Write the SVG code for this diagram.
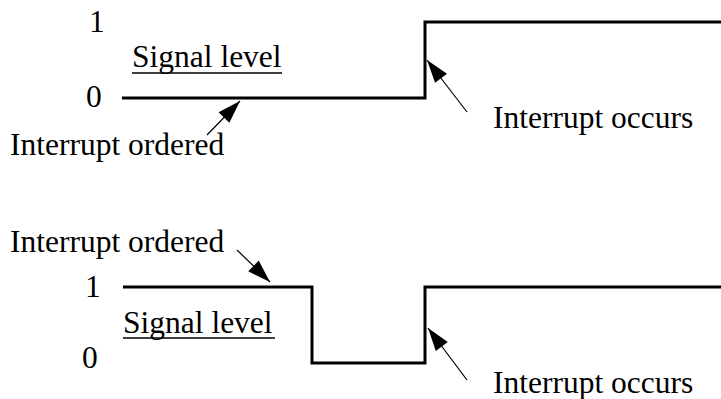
<svg xmlns="http://www.w3.org/2000/svg" width="721" height="399" viewBox="0 0 721 399">
  <style>
    text { font-family: "Liberation Serif", "Times New Roman", serif; font-size: 31.5px; fill: #000; }
    .signal { fill: none; stroke: #000; stroke-width: 3; stroke-linejoin: miter; stroke-linecap: butt; }
    .pointer { stroke: #000; stroke-width: 1.2; fill: none; }
    .uline { stroke: #000; stroke-width: 1.5; }
  </style>
  <defs>
    <marker id="head" viewBox="-24 -8 25 16" refX="0" refY="0" markerWidth="25" markerHeight="16" markerUnits="userSpaceOnUse" orient="auto">
      <path d="M0,0 L-23,-7.5 L-23,7.5 z" fill="#000"/>
    </marker>
  </defs>

  <!-- Upper chart: level-triggered, interrupt ordered while low -->
  <g id="upper-axis">
    <text x="89" y="32">1</text>
    <text x="86" y="107">0</text>
    <text x="132" y="67">Signal level</text>
    <line class="uline" x1="132" y1="73" x2="282" y2="73"/>
  </g>
  <g id="upper-ordered">
    <text x="10" y="155">Interrupt ordered</text>
  </g>
  <g id="upper-occurs">
    <text x="493" y="128">Interrupt occurs</text>
  </g>

  <!-- Lower chart: interrupt ordered while high -->
  <g id="lower-axis">
    <text x="85" y="297">1</text>
    <text x="82" y="368">0</text>
    <text x="123" y="333">Signal level</text>
    <line class="uline" x1="123" y1="338" x2="275" y2="338"/>
  </g>
  <g id="lower-ordered">
    <text x="10" y="252">Interrupt ordered</text>
  </g>
  <g id="lower-occurs">
    <text x="493" y="393">Interrupt occurs</text>
  </g>

  <g id="connectors">
    <!-- signal traces -->
    <path class="signal" d="M122,98 H425 V22 H721"/>
    <path class="signal" d="M123,287 H312 V363 H425 V287 H721"/>
    <!-- pointers -->
    <line class="pointer" x1="207" y1="135" x2="240" y2="101" marker-end="url(#head)"/>
    <line class="pointer" x1="467" y1="112" x2="427" y2="60" marker-end="url(#head)"/>
    <line class="pointer" x1="237" y1="250" x2="270" y2="282" marker-end="url(#head)"/>
    <line class="pointer" x1="467" y1="380" x2="428" y2="328" marker-end="url(#head)"/>
  </g>
</svg>
